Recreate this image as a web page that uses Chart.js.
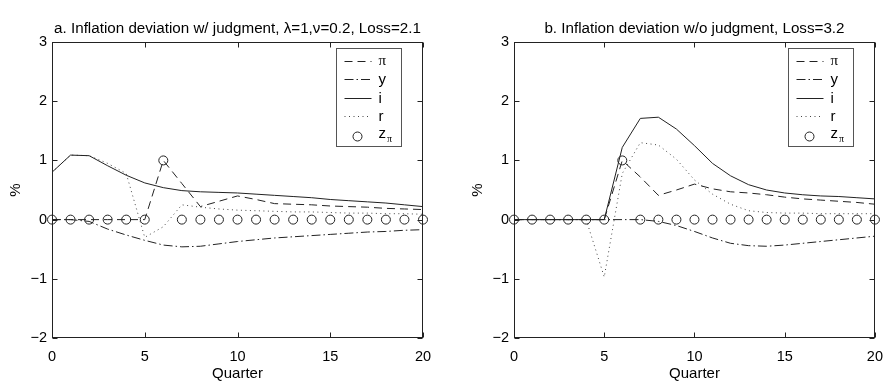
<!DOCTYPE html>
<html>
<head>
<meta charset="utf-8">
<script src="https://cdn.jsdelivr.net/npm/chart.js@4.4.0/dist/chart.umd.min.js"></script>
<style>
  html, body { margin: 0; padding: 0; background: #fff; }
  #wrap { position: relative; width: 893px; height: 381px; overflow: hidden; }
  canvas { position: absolute; top: 0; }
  #chartA { left: 0; }
  #chartB { left: 446px; }
</style>
</head>
<body>
<div id="wrap">
  <canvas id="chartA" width="446" height="381"></canvas>
  <canvas id="chartB" width="447" height="381"></canvas>
</div>
<script>
// ─── Data ──────────────────────────────────────────────────
const quarters = [0,1,2,3,4,5,6,7,8,9,10,11,12,13,14,15,16,17,18,19,20];

// a. with judgment
const piA = [0,0,0,0,0,0,1.00,0.61,0.22,0.31,0.40,0.34,0.27,0.26,0.25,0.23,0.22,0.21,0.19,0.18,0.17];
const yA  = [0,0,-0.03,-0.16,-0.26,-0.35,-0.43,-0.46,-0.45,-0.41,-0.37,-0.34,-0.31,-0.29,-0.27,-0.25,-0.23,-0.21,-0.20,-0.18,-0.17];
const iA  = [0.80,1.09,1.08,0.91,0.75,0.62,0.54,0.49,0.47,0.46,0.45,0.43,0.41,0.39,0.37,0.34,0.32,0.30,0.28,0.25,0.22];
const rA  = [0.80,1.09,1.08,0.95,0.78,-0.30,-0.12,0.25,0.21,0.18,0.16,0.15,0.14,0.13,0.13,0.12,0.11,0.11,0.10,0.10,0.09];
const zA  = [0,0,0,0,0,0,1,0,0,0,0,0,0,0,0,0,0,0,0,0,0];

// b. without judgment
const piB = [0,0,0,0,0,0,1.00,0.72,0.41,0.50,0.60,0.52,0.47,0.45,0.42,0.38,0.35,0.33,0.31,0.29,0.26];
const yB  = [0,0,0,0,0,0,0,0,-0.03,-0.10,-0.20,-0.31,-0.40,-0.44,-0.45,-0.43,-0.40,-0.37,-0.34,-0.31,-0.28];
const iB  = [0,0,0,0,0,0,1.22,1.71,1.73,1.53,1.25,0.95,0.74,0.59,0.50,0.45,0.42,0.40,0.39,0.37,0.35];
const rB  = [0,0,0,0,0,-0.97,0.78,1.30,1.26,1.02,0.67,0.43,0.26,0.15,0.12,0.11,0.11,0.10,0.10,0.10,0.10];
const zB  = [0,0,0,0,0,0,1,0,0,0,0,0,0,0,0,0,0,0,0,0,0];

const titleA = 'a. Inflation deviation w/ judgment, \u03bb=1,\u03bd=0.2, Loss=2.1';
const titleB = 'b. Inflation deviation w/o judgment, Loss=3.2';
const xTicks = [0, 5, 10, 15, 20];
const yTicks = [-2, -1, 0, 1, 2, 3];

const FONT = '"Liberation Sans", Arial, Helvetica, sans-serif';
const INK = '#222';
Chart.defaults.font.family = FONT;
Chart.defaults.color = '#000';

const pts = vals => quarters.map((q, k) => ({ x: q, y: vals[k] }));

// ─── Box, inner ticks and legend ───────────────────────────
const framePlugin = {
  id: 'frame',
  afterDatasetsDraw(chart) {
    const { ctx, chartArea: a, scales: { x, y } } = chart;
    const L = Math.round(a.left) + 0.5, R = Math.round(a.right) - 0.5;
    const T = Math.round(a.top) + 0.5, B = Math.round(a.bottom) - 0.5;
    ctx.save();
    ctx.strokeStyle = INK;
    ctx.lineWidth = 1;
    ctx.setLineDash([]);
    ctx.strokeRect(L, T, R - L, B - T);
    ctx.beginPath();
    xTicks.forEach(v => {
      const px = Math.round(x.getPixelForValue(v)) + 0.5;
      ctx.moveTo(px, B); ctx.lineTo(px, B - 5);
      ctx.moveTo(px, T); ctx.lineTo(px, T + 5);
    });
    yTicks.forEach(v => {
      const py = Math.round(y.getPixelForValue(v)) + 0.5;
      ctx.moveTo(L, py); ctx.lineTo(L + 5, py);
      ctx.moveTo(R, py); ctx.lineTo(R - 5, py);
    });
    ctx.stroke();

    // legend
    const bl = Math.round(a.right - 87) + 0.5, br = Math.round(a.right - 22) + 0.5;
    const bt = Math.round(a.top + 6) + 0.5, bb = Math.round(a.top + 104) + 0.5;
    ctx.fillStyle = '#fff';
    ctx.fillRect(bl, bt, br - bl, bb - bt);
    ctx.strokeStyle = '#555';
    ctx.strokeRect(bl, bt, br - bl, bb - bt);
    const rows = [19, 37, 56, 74, 94];
    chart.data.datasets.forEach((ds, k) => {
      const ry = Math.round(a.top + rows[k]) + 0.5;
      ctx.strokeStyle = ds.borderColor;
      ctx.lineWidth = 1;
      if (ds.showLine === false) {
        ctx.setLineDash([]);
        ctx.beginPath();
        ctx.arc(bl + 21, ry, ds.pointRadius, 0, Math.PI * 2);
        ctx.stroke();
      } else {
        ctx.setLineDash(ds.borderDash || []);
        ctx.beginPath();
        ctx.moveTo(bl + 8, ry); ctx.lineTo(bl + 35, ry);
        ctx.stroke();
      }
      ctx.setLineDash([]);
      ctx.fillStyle = '#000';
      ctx.textBaseline = 'middle';
      ctx.textAlign = 'left';
      const tx = bl + 42;
      if (ds.sub) {
        ctx.font = '15px ' + FONT;
        ctx.fillText(ds.label, tx, ry - 3);
        const w = ctx.measureText(ds.label).width;
        ctx.font = '10px "Liberation Serif", serif';
        ctx.fillText(ds.sub, tx + w + 1, ry + 3);
      } else {
        ctx.font = (ds.label === '\u03c0' ? '15px "Liberation Serif", serif' : '15px ' + FONT);
        ctx.fillText(ds.label, tx, ry);
      }
    });
    ctx.restore();
  }
};

// ─── Charts ────────────────────────────────────────────────
function makeChart(id, title, s, axisWidth, padRight, yTitlePad) {
  const line = (label, vals, dash, color) => ({
    label, data: pts(vals), borderColor: color || INK, borderWidth: 1,
    borderDash: dash, pointRadius: 0, tension: 0, fill: false
  });
  return new Chart(document.getElementById(id), {
    type: 'line',
    data: {
      datasets: [
        line('\u03c0', s.pi, [8, 5]),
        line('y', s.y, [9, 3, 1.5, 3]),
        line('i', s.i, []),
        line('r', s.r, [1, 3.5], '#444'),
        { label: 'z', sub: '\u03c0', data: pts(s.z), showLine: false, pointRadius: 4.5, clip: false,
          pointStyle: 'circle', borderColor: INK, backgroundColor: 'rgba(0,0,0,0)', borderWidth: 1 }
      ]
    },
    options: {
      responsive: false,
      animation: false,
      devicePixelRatio: 1,
      layout: { padding: { left: 0, right: padRight, top: 0, bottom: 0 } },
      plugins: {
        legend: { display: false },
        tooltip: { enabled: false },
        title: {
          display: true, text: title, fullSize: false, color: '#000',
          font: { size: 15.2, weight: 'normal', family: FONT },
          padding: { top: 20, bottom: 3.8 }
        }
      },
      scales: {
        x: {
          type: 'linear', min: 0, max: 20,
          grid: { display: false, drawTicks: false },
          border: { display: false },
          ticks: { stepSize: 5, padding: 10, color: '#000', font: { size: 14.5 } },
          title: { display: true, text: 'Quarter', color: '#000', font: { size: 15 }, padding: { top: 0, bottom: -1.5 } },
          afterFit: sc => { sc.height = 43; }
        },
        y: {
          min: -2, max: 3,
          grid: { display: false, drawTicks: false },
          border: { display: false },
          ticks: { stepSize: 1, padding: 5, color: '#000', font: { size: 14.5 },
                   callback: v => String(v).replace('-', '\u2212') },
          title: { display: true, text: '%', color: '#000', font: { size: 15 }, padding: { top: yTitlePad, bottom: 0 } },
          afterFit: sc => { sc.width = axisWidth; }
        }
      }
    },
    plugins: [framePlugin]
  });
}

makeChart('chartA', titleA, { pi: piA, y: yA, i: iA, r: rA, z: zA }, 52, 23, 6.5);
makeChart('chartB', titleB, { pi: piB, y: yB, i: iB, r: rB, z: zB }, 68, 7, 23);
</script>
</body>
</html>
